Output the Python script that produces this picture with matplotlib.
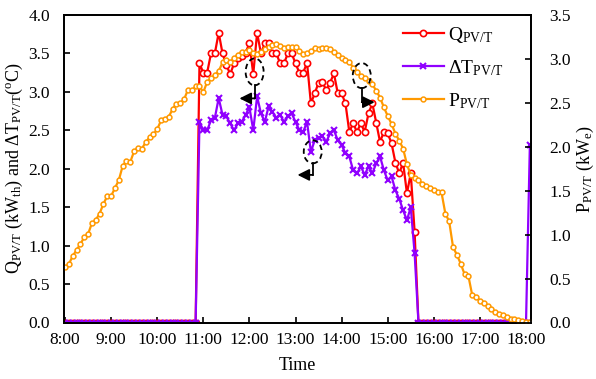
import numpy as np
import matplotlib.pyplot as plt
from matplotlib.patches import Ellipse

plt.rcParams['font.family'] = ['Liberation Serif', 'DejaVu Serif']
plt.rcParams['mathtext.fontset'] = 'custom'
plt.rcParams['mathtext.rm'] = 'Liberation Serif'
plt.rcParams['mathtext.it'] = 'Liberation Serif:italic'

# readings every 5 minutes, 8:00 -> 18:05
time_h = 8 + np.arange(122) * 5 / 60

hour_ticks = [8, 9, 10, 11, 12, 13, 14, 15, 16, 17, 18]
hour_labels = ['8:00', '9:00', '10:00', '11:00', '12:00', '13:00',
               '14:00', '15:00', '16:00', '17:00', '18:00']

# electrical power (kWe), right axis
p_pvt = [0.63, 0.665, 0.756, 0.825, 0.893, 0.97, 1.007, 1.13, 1.166, 1.24,
         1.35, 1.44, 1.44, 1.53, 1.62, 1.78, 1.84, 1.83, 1.95, 1.99,
         1.98, 2.05, 2.11, 2.14, 2.20, 2.30, 2.32, 2.34, 2.43, 2.49,
         2.50, 2.54, 2.65, 2.645, 2.69, 2.69, 2.62, 2.74, 2.78, 2.82,
         2.86, 2.96, 2.99, 2.97, 3.01, 3.05, 3.08, 3.08, 3.10, 3.07,
         3.06, 3.08, 3.11, 3.14, 3.16, 3.17, 3.15, 3.13, 3.14, 3.14,
         3.14, 3.09, 3.06, 3.07, 3.09, 3.12, 3.11, 3.12, 3.12, 3.11,
         3.08, 3.04, 3.01, 2.99, 2.97, 2.90, 2.85, 2.81, 2.78, 2.75,
         2.71, 2.64, 2.56, 2.45, 2.35, 2.26, 2.15, 2.07, 1.98, 1.80,
         1.68, 1.65, 1.62, 1.58, 1.55, 1.53, 1.51, 1.49, 1.48, 1.24,
         1.15, 0.86, 0.77, 0.67, 0.55, 0.53, 0.31, 0.29, 0.25, 0.22,
         0.19, 0.15, 0.12, 0.10, 0.08, 0.06, 0.045, 0.035, 0.025, 0.015,
         0.01, 0.01]

# thermal power (kWth), 10:55 -> 15:35
q_day = [3.37, 3.25, 3.25, 3.50, 3.50, 3.77, 3.50, 3.35, 3.23, 3.37,
         3.44, 3.47, 3.51, 3.63, 3.23, 3.77, 3.50, 3.63, 3.63, 3.50,
         3.50, 3.37, 3.37, 3.50, 3.50, 3.37, 3.25, 3.25, 3.38, 2.85,
         2.98, 3.12, 3.13, 3.02, 3.12, 3.24, 2.98, 2.98, 2.85, 2.48,
         2.59, 2.48, 2.59, 2.48, 2.72, 2.85, 2.60, 2.35, 2.48, 2.46,
         2.33, 2.08, 1.94, 2.08, 1.68, 1.94, 1.18]
q_pvt = [0.0] * 35 + q_day + [0.0] * 30

# temperature rise (oC), 10:55 -> 15:35
dt_day = [2.61, 2.50, 2.50, 2.63, 2.66, 2.92, 2.70, 2.68, 2.59, 2.50,
          2.59, 2.61, 2.70, 2.80, 2.50, 2.94, 2.72, 2.61, 2.81, 2.74,
          2.66, 2.70, 2.61, 2.68, 2.72, 2.61, 2.50, 2.48, 2.61, 2.22,
          2.37, 2.40, 2.42, 2.35, 2.46, 2.50, 2.37, 2.31, 2.20, 2.16,
          1.98, 1.94, 2.03, 1.92, 2.03, 1.94, 2.07, 2.16, 1.98, 1.85,
          1.90, 1.72, 1.61, 1.46, 1.33, 1.50, 0.90]
dt_pvt = [0.0] * 35 + dt_day + [0.0] * 29 + [2.31]

RED = '#FF0000'
PURPLE = '#9000FF'
ORANGE = '#FF9900'

fig = plt.figure(figsize=(5.96, 3.79), dpi=100)
ax = fig.add_axes([64 / 596, 56.5 / 379, 467 / 596, 307.5 / 379])
ax2 = ax.twinx()

l1, = ax.plot(time_h, q_pvt, color=RED, lw=1.6, marker='o', ms=4.5,
              mfc='white', mec=RED, mew=1.2, label=r'Q$_{\mathrm{PV/T}}$')
l2, = ax.plot(time_h, dt_pvt, color=PURPLE, lw=1.6, marker='x', ms=5,
              mec=PURPLE, mew=1.5, label=r'ΔT$_{\mathrm{PV/T}}$')
l3, = ax2.plot(time_h, p_pvt, color=ORANGE, lw=1.6, marker='o', ms=3.5,
               mfc='white', mec=ORANGE, mew=1.1, label=r'P$_{\mathrm{PV/T}}$')

ax.set_xlim(7.978, 18.108)
ax.set_ylim(0, 4.0)
ax2.set_ylim(0, 3.5)
ax.set_xticks(hour_ticks)
ax.set_xticklabels(hour_labels)
ax.set_yticks(np.arange(0, 4.01, 0.5))
ax2.set_yticks(np.arange(0, 3.51, 0.5))
ax.yaxis.set_major_formatter('{x:.1f}')
ax2.yaxis.set_major_formatter('{x:.1f}')

for a in (ax, ax2):
    a.tick_params(direction='in', length=4, width=1.2, labelsize=12.5)
    for s in a.spines.values():
        s.set_linewidth(1.3)
ax.tick_params(axis='x', pad=7)
ax.tick_params(axis='y', pad=10)
ax2.tick_params(axis='y', pad=13)

ax.set_xlabel('Time', fontsize=13)
ax.xaxis.set_label_coords(0.5, -0.113)
ax.set_ylabel(r'Q$_{\mathrm{PV/T}}$ (kW$_{\mathrm{th}}$) and ΔT$_{\mathrm{PV/T}}$($^{\mathrm{o}}$C)',
              fontsize=13)
ax.yaxis.set_label_coords(-0.083, 0.5)
ax2.set_ylabel(r'P$_{\mathrm{PV/T}}$ (kW$_{\mathrm{e}}$)', fontsize=13)
ax2.yaxis.set_label_coords(1.094, 0.5)

# dashed markers + L-shaped arrows telling which axis a series belongs to
def mark(a, x, y, w, h, drop, run):
    a.add_patch(Ellipse((x, y), w, h, fill=False, ls=(0, (3, 2)), lw=1.3,
                        ec='black', zorder=5))
    yb = y - h / 2
    a.plot([x, x], [yb, yb - drop], color='black', lw=1.3, zorder=5)
    a.annotate('', xy=(x + run, yb - drop), xytext=(x, yb - drop),
               arrowprops=dict(arrowstyle='-|>,head_length=0.7,head_width=0.35',
                               color='black', lw=1.3, shrinkA=0, shrinkB=0),
               zorder=5)

mark(ax, time_h[49] + 0.03, q_pvt[49] + 0.03, 0.39, 0.35, 0.17, -0.33)
mark(ax, time_h[64] + 0.04, dt_pvt[64], 0.39, 0.30, 0.15, -0.33)
mark(ax2, time_h[77] + 0.02, p_pvt[77], 0.39, 0.285, 0.16, 0.28)

ax2.legend(handles=[l1, l2, l3], loc='upper left', bbox_to_anchor=(0.705, 1.0),
           frameon=False, fontsize=14, handlelength=2.1, handletextpad=0.2,
           labelspacing=0.68, borderaxespad=0.1)

fig.savefig('out.png', dpi=100)
